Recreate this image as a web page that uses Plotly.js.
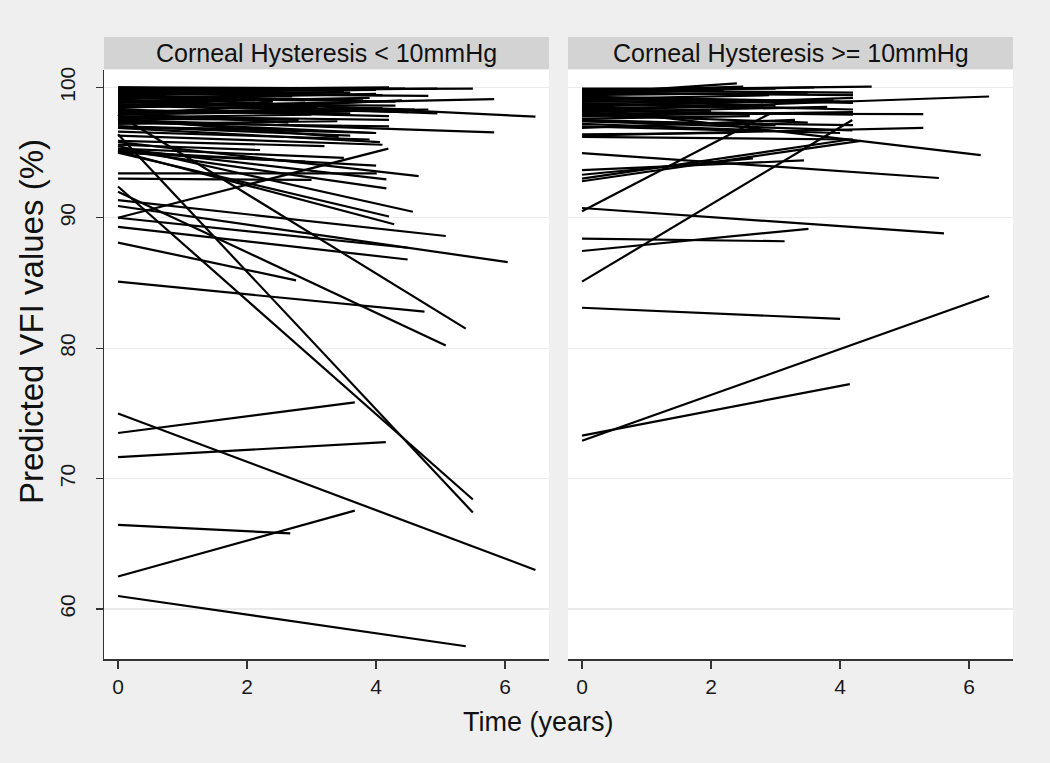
<!DOCTYPE html>
<html>
<head>
<meta charset="utf-8">
<script src="https://cdn.plot.ly/plotly-3.0.1.min.js"></script>
<style>html,body{margin:0;padding:0;background:#efefef;}#chart{width:1050px;height:763px;}</style>
</head>
<body>
<div id="chart"></div>
<script>
// Panel titles and axis labels
const panelTitles = ["Corneal Hysteresis < 10mmHg", "Corneal Hysteresis >= 10mmHg"];
const xTicks = [0, 2, 4, 6];
const yTicks = [60, 70, 80, 90, 100];
const xTitle = "Time (years)";
const yTitle = "Predicted VFI values (%)";

// Left panel (CH < 10): predicted VFI at time 0, follow-up end time, predicted VFI at end
const lowStart = [75.0, 73.5, 71.65, 66.45, 62.5, 61.0, 96.4, 92.4, 97.9, 92.0, 85.1, 88.1, 90.9, 91.35, 89.3, 90.0, 90.0, 93.4, 93.0,
  95.3, 95.2, 95.5, 95.0, 95.1, 95.8, 97.5, 99.3, 98.5, 99.8, 96.9, 97.0, 97.6, 98.0, 99.7, 99.5,
  100.0, 99.9, 99.7, 99.5, 99.3, 99.2, 99.0, 98.8, 98.6, 98.5, 98.3, 98.1, 97.9, 97.8, 97.6, 97.4, 97.2, 96.9, 96.6, 96.3, 95.9, 95.6, 95.3, 95.1, 95.0, 98.9,
  100.0, 99.85, 99.6, 99.4, 99.1, 98.9, 98.7, 98.4, 98.2, 98.0, 97.7, 97.3, 97.0, 99.95, 99.6, 98.95, 98.0];
const lowEndTime = [6.47, 3.67, 4.15, 2.67, 3.67, 5.39, 5.5, 5.5, 5.39, 5.08, 4.75, 2.76, 6.04, 5.08, 4.49, 4.49, 4.19, 4.01, 3.0,
  4.16, 4.16, 4.57, 4.2, 4.28, 4.66, 5.83, 6.47, 5.83, 5.5, 4.06, 4.0, 3.42, 2.64, 4.95, 4.81,
  4.45, 3.0, 4.1, 3.6, 4.3, 2.9, 4.6, 3.9, 4.5, 3.3, 4.2, 4.81, 3.7, 4.2, 2.8, 4.0, 3.4, 2.6, 3.9, 4.1, 3.2, 2.2, 3.5, 4.0, 2.9, 4.95,
  3.5, 4.2, 2.7, 3.8, 4.0, 3.1, 4.3, 2.4, 3.6, 4.1, 3.0, 4.2, 3.6, 2.6, 4.0, 2.0, 4.4];
const lowEnd = [63.0, 75.85, 72.8, 65.8, 67.55, 57.15, 67.4, 68.4, 81.5, 80.2, 82.8, 85.2, 86.6, 88.6, 86.8, 87.7, 95.3, 93.4, 92.9,
  92.95, 92.25, 90.46, 90.1, 89.5, 93.2, 96.55, 97.75, 99.1, 99.9, 95.8, 96.5, 96.2, 97.3, 99.9, 99.35,
  99.9, 99.8, 99.4, 99.6, 98.9, 99.0, 98.3, 99.2, 98.1, 98.7, 97.8, 98.3, 98.2, 97.5, 97.5, 96.5, 97.4, 96.8, 96.0, 95.6, 95.5, 95.2, 94.6, 94.0, 94.3, 98.0,
  99.7, 100.0, 99.3, 99.0, 99.5, 98.4, 98.6, 98.9, 98.0, 98.4, 97.9, 97.0, 96.3, 99.95, 99.8, 99.1, 99.0];

// Right panel (CH >= 10)
const highStart = [72.9, 73.3, 83.1, 85.1, 87.45, 88.4, 90.75, 90.5, 94.95, 96.3, 98.4, 98.2, 98.0, 93.65, 93.3, 92.8, 93.0, 99.5, 99.7, 99.8,
  99.6, 99.4, 99.2, 99.0, 98.8, 98.6, 98.4, 98.2, 97.9, 97.6, 97.4, 97.2, 96.9, 97.4, 99.1,
  99.9, 99.75, 99.5, 99.3, 99.1, 98.9, 98.7, 98.5, 98.3, 98.1, 97.8, 97.5, 97.0, 96.4, 99.6, 98.0, 96.2];
const highEndTime = [6.31, 4.15, 4.0, 4.19, 3.51, 3.14, 5.61, 2.92, 5.53, 5.29, 6.18, 6.31, 5.29, 3.44, 2.65, 4.32, 4.15, 2.4, 2.5, 4.49,
  4.2, 3.5, 4.2, 3.0, 4.2, 3.9, 2.5, 4.2, 3.5, 2.6, 4.2, 2.8, 3.3, 4.19, 3.6,
  3.0, 4.2, 2.2, 4.0, 2.9, 4.2, 3.3, 4.2, 2.0, 3.8, 4.2, 3.0, 4.0, 2.3, 3.6, 1.8, 4.2];
const highEnd = [84.0, 77.25, 82.25, 97.5, 89.15, 88.2, 88.8, 98.0, 93.05, 96.9, 94.8, 99.3, 97.95, 94.4, 94.55, 95.9, 96.0, 100.3, 100.05, 100.05,
  99.4, 99.6, 98.8, 98.6, 98.3, 99.0, 98.5, 97.9, 97.3, 97.8, 97.1, 96.7, 97.5, 96.7, 98.9,
  99.9, 99.6, 99.8, 98.9, 99.4, 98.9, 98.4, 99.2, 98.2, 98.5, 98.1, 97.1, 96.5, 96.5, 100.0, 97.6, 96.0];

function segments(starts, times, ends) {
  const x = [], y = [];
  for (let i = 0; i < starts.length; i++) {
    x.push(0, times[i], null);
    y.push(starts[i], ends[i], null);
  }
  return {x, y};
}
const L = segments(lowStart, lowEndTime, lowEnd);
const H = segments(highStart, highEndTime, highEnd);

const lineStyle = {color: '#000000', width: 2.2};
const traces = [
  {type: 'scatter', mode: 'lines', x: L.x, y: L.y, xaxis: 'x', yaxis: 'y', line: lineStyle, connectgaps: false, hoverinfo: 'skip', showlegend: false},
  {type: 'scatter', mode: 'lines', x: H.x, y: H.y, xaxis: 'x2', yaxis: 'y2', line: lineStyle, connectgaps: false, hoverinfo: 'skip', showlegend: false}
];

const W = 1050, Hh = 763;
const fx = p => p / W, fy = p => 1 - p / Hh;
const font = "Liberation Sans, Arial, Helvetica, sans-serif";
const xRange = [-0.217, 6.68];
const yRange = [56.17, 101.33];
const yDomain = [fy(659), fy(70)];

const xCommon = {
  range: xRange, tickvals: xTicks, ticktext: xTicks.map(String), ticks: 'outside', ticklen: 8, tickwidth: 1.3, tickcolor: '#333',
  showline: true, linecolor: '#333', linewidth: 1.5, showgrid: false, zeroline: false,
  tickfont: {family: font, size: 21, color: '#1a1a1a'}, fixedrange: true
};
const layout = {
  width: W, height: Hh,
  margin: {l: 0, r: 0, t: 0, b: 0},
  paper_bgcolor: '#efefef', plot_bgcolor: '#ffffff',
  font: {family: font},
  showlegend: false,
  xaxis: Object.assign({}, xCommon, {domain: [fx(104), fx(549)], anchor: 'y'}),
  xaxis2: Object.assign({}, xCommon, {domain: [fx(568), fx(1013)], anchor: 'y2'}),
  yaxis: {
    domain: yDomain, range: yRange, tickvals: yTicks, ticktext: yTicks.map(String), tickangle: -90,
    ticks: 'outside', ticklen: 7, tickwidth: 1.3, tickcolor: '#333', ticklabelstandoff: 12,
    showline: true, linecolor: '#333', linewidth: 1.5, showgrid: true, gridcolor: '#ebebeb', gridwidth: 1.2, zeroline: false,
    tickfont: {family: font, size: 21, color: '#1a1a1a'}, anchor: 'x'
  },
  yaxis2: {
    domain: yDomain, range: yRange, tickvals: yTicks, showticklabels: false, ticks: '',
    showline: false, showgrid: true, gridcolor: '#ebebeb', gridwidth: 1.2, zeroline: false, anchor: 'x2'
  },
  shapes: [
    {type: 'rect', xref: 'paper', yref: 'paper', x0: fx(104), x1: fx(549), y0: fy(69), y1: fy(37), fillcolor: '#d3d3d3', line: {width: 0}, layer: 'below'},
    {type: 'rect', xref: 'paper', yref: 'paper', x0: fx(568), x1: fx(1013), y0: fy(69), y1: fy(37), fillcolor: '#d3d3d3', line: {width: 0}, layer: 'below'}
  ],
  annotations: [
    {text: panelTitles[0], xref: 'paper', yref: 'paper', x: fx(326.5), y: fy(53), showarrow: false, xanchor: 'center', yanchor: 'middle', font: {family: font, size: 25, color: '#111'}},
    {text: panelTitles[1], xref: 'paper', yref: 'paper', x: fx(790.5), y: fy(53), showarrow: false, xanchor: 'center', yanchor: 'middle', font: {family: font, size: 25, color: '#111'}},
    {text: xTitle, xref: 'paper', yref: 'paper', x: fx(538), y: fy(722), showarrow: false, xanchor: 'center', yanchor: 'middle', font: {family: font, size: 27, color: '#111'}},
    {text: yTitle, xref: 'paper', yref: 'paper', x: fx(31), y: fy(322), showarrow: false, textangle: -90, xanchor: 'center', yanchor: 'middle', font: {family: font, size: 33, color: '#111'}}
  ]
};

Plotly.newPlot('chart', traces, layout, {displayModeBar: false, staticPlot: true});
</script>
</body>
</html>
